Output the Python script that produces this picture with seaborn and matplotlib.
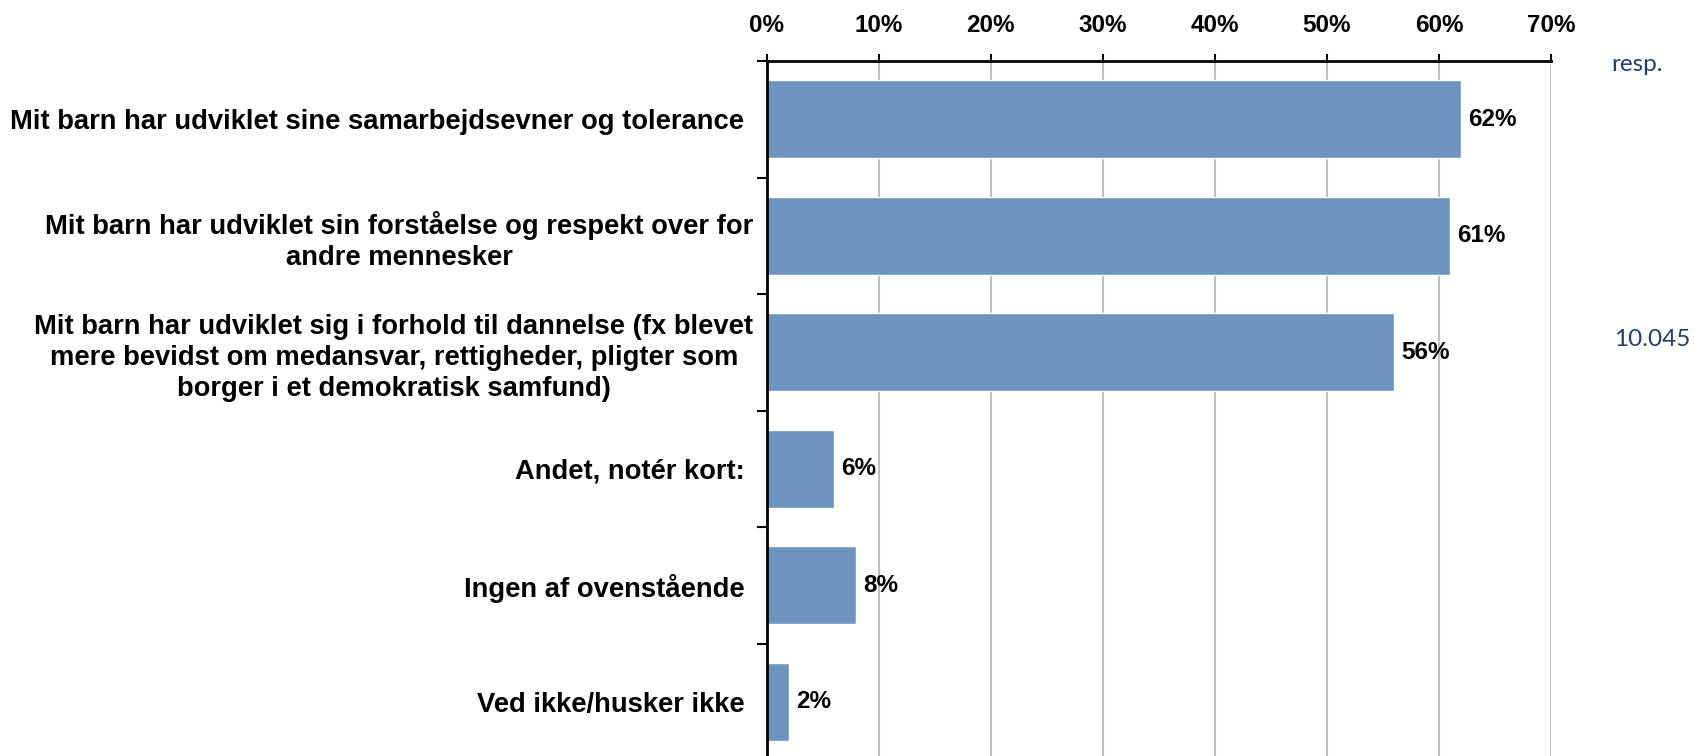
import matplotlib
matplotlib.use("Agg")
import matplotlib.pyplot as plt
import matplotlib.transforms as mtransforms
import seaborn as sns
import pandas as pd

# ----------------------------
# DATA
# ----------------------------
categories = [
    "Mit barn har udviklet sine samarbejdsevner og tolerance",
    "Mit barn har udviklet sin forståelse og respekt over for\nandre mennesker",
    "Mit barn har udviklet sig i forhold til dannelse (fx blevet\nmere bevidst om medansvar, rettigheder, pligter som\nborger i et demokratisk samfund)",
    "Andet, notér kort:",
    "Ingen af ovenstående",
    "Ved ikke/husker ikke",
]
values = [62, 61, 56, 6, 8, 2]
x_ticks = [0, 10, 20, 30, 40, 50, 60, 70]
side_label = "resp."
side_count = "10.045"

df = pd.DataFrame({"category": categories, "value": values})

# ----------------------------
# STYLE
# ----------------------------
sns.set_style("white")
plt.rcParams["font.family"] = ["Liberation Sans", "DejaVu Sans"]
plt.rcParams["text.color"] = "black"
plt.rcParams["xtick.color"] = "black"
plt.rcParams["ytick.color"] = "black"

BAR_COLOR = "#6D95BF"
NAVY = "#1F3F6F"

fig = plt.figure(figsize=(16.95, 7.56), dpi=100)
ax = fig.add_axes([0.4523, -0.0053, 0.4628, 0.9246])

sns.barplot(data=df, x="value", y="category", orient="h",
            color=BAR_COLOR, width=0.67, saturation=1, ax=ax)

# ----------------------------
# AXES
# ----------------------------
ax.set_xlim(0, 70)
ax.set_ylim(5.5, -0.5)
ax.xaxis.tick_top()
ax.set_xticks(x_ticks)
ax.set_xticklabels([f"{t}%" for t in x_ticks], fontsize=17.5,
                   fontweight="bold", color="black")
ax.tick_params(axis="x", length=5, width=1.5, pad=12, color="black")

ax.set_yticks(range(len(categories)))
ax.set_yticklabels(categories, fontsize=19.7, fontweight="bold",
                   color="black", linespacing=1.25)
ax.tick_params(axis="y", which="major", length=0, pad=16)
# multi-line labels sit a bit closer to the axis in the original
shift = mtransforms.ScaledTranslation(0.09, 0, fig.dpi_scale_trans)
for lbl in ax.get_yticklabels():
    lbl.set_multialignment("center")
    if "\n" in lbl.get_text():
        lbl.set_transform(lbl.get_transform() + shift)
ax.set_yticks([i - 0.5 for i in range(len(categories))], minor=True)
ax.tick_params(axis="y", which="minor", length=7, width=1.5,
               direction="out", left=True, color="black")

ax.set_xlabel("")
ax.set_ylabel("")
ax.grid(axis="x", color="#C0C0C0", linewidth=1.5)
ax.grid(axis="y", visible=False)
ax.set_axisbelow(True)

for side in ["right", "bottom"]:
    ax.spines[side].set_visible(False)
for side in ["top", "left"]:
    ax.spines[side].set_color("black")
    ax.spines[side].set_linewidth(2)

# value labels
ax.bar_label(ax.containers[0], labels=[f"{v}%" for v in values],
             padding=5, fontsize=17.5, fontweight="bold", color="black")

# side texts
fig.text(1611 / 1695, 1 - 71 / 756, side_label, color=NAVY,
         fontsize=17.5, family="Lato", ha="left", va="baseline")
fig.text(1614 / 1695, 1 - 340 / 756, side_count, color=NAVY,
         fontsize=17.5, family="Lato", ha="left", va="center")

fig.savefig("out.png", dpi=100)
plt.close(fig)
